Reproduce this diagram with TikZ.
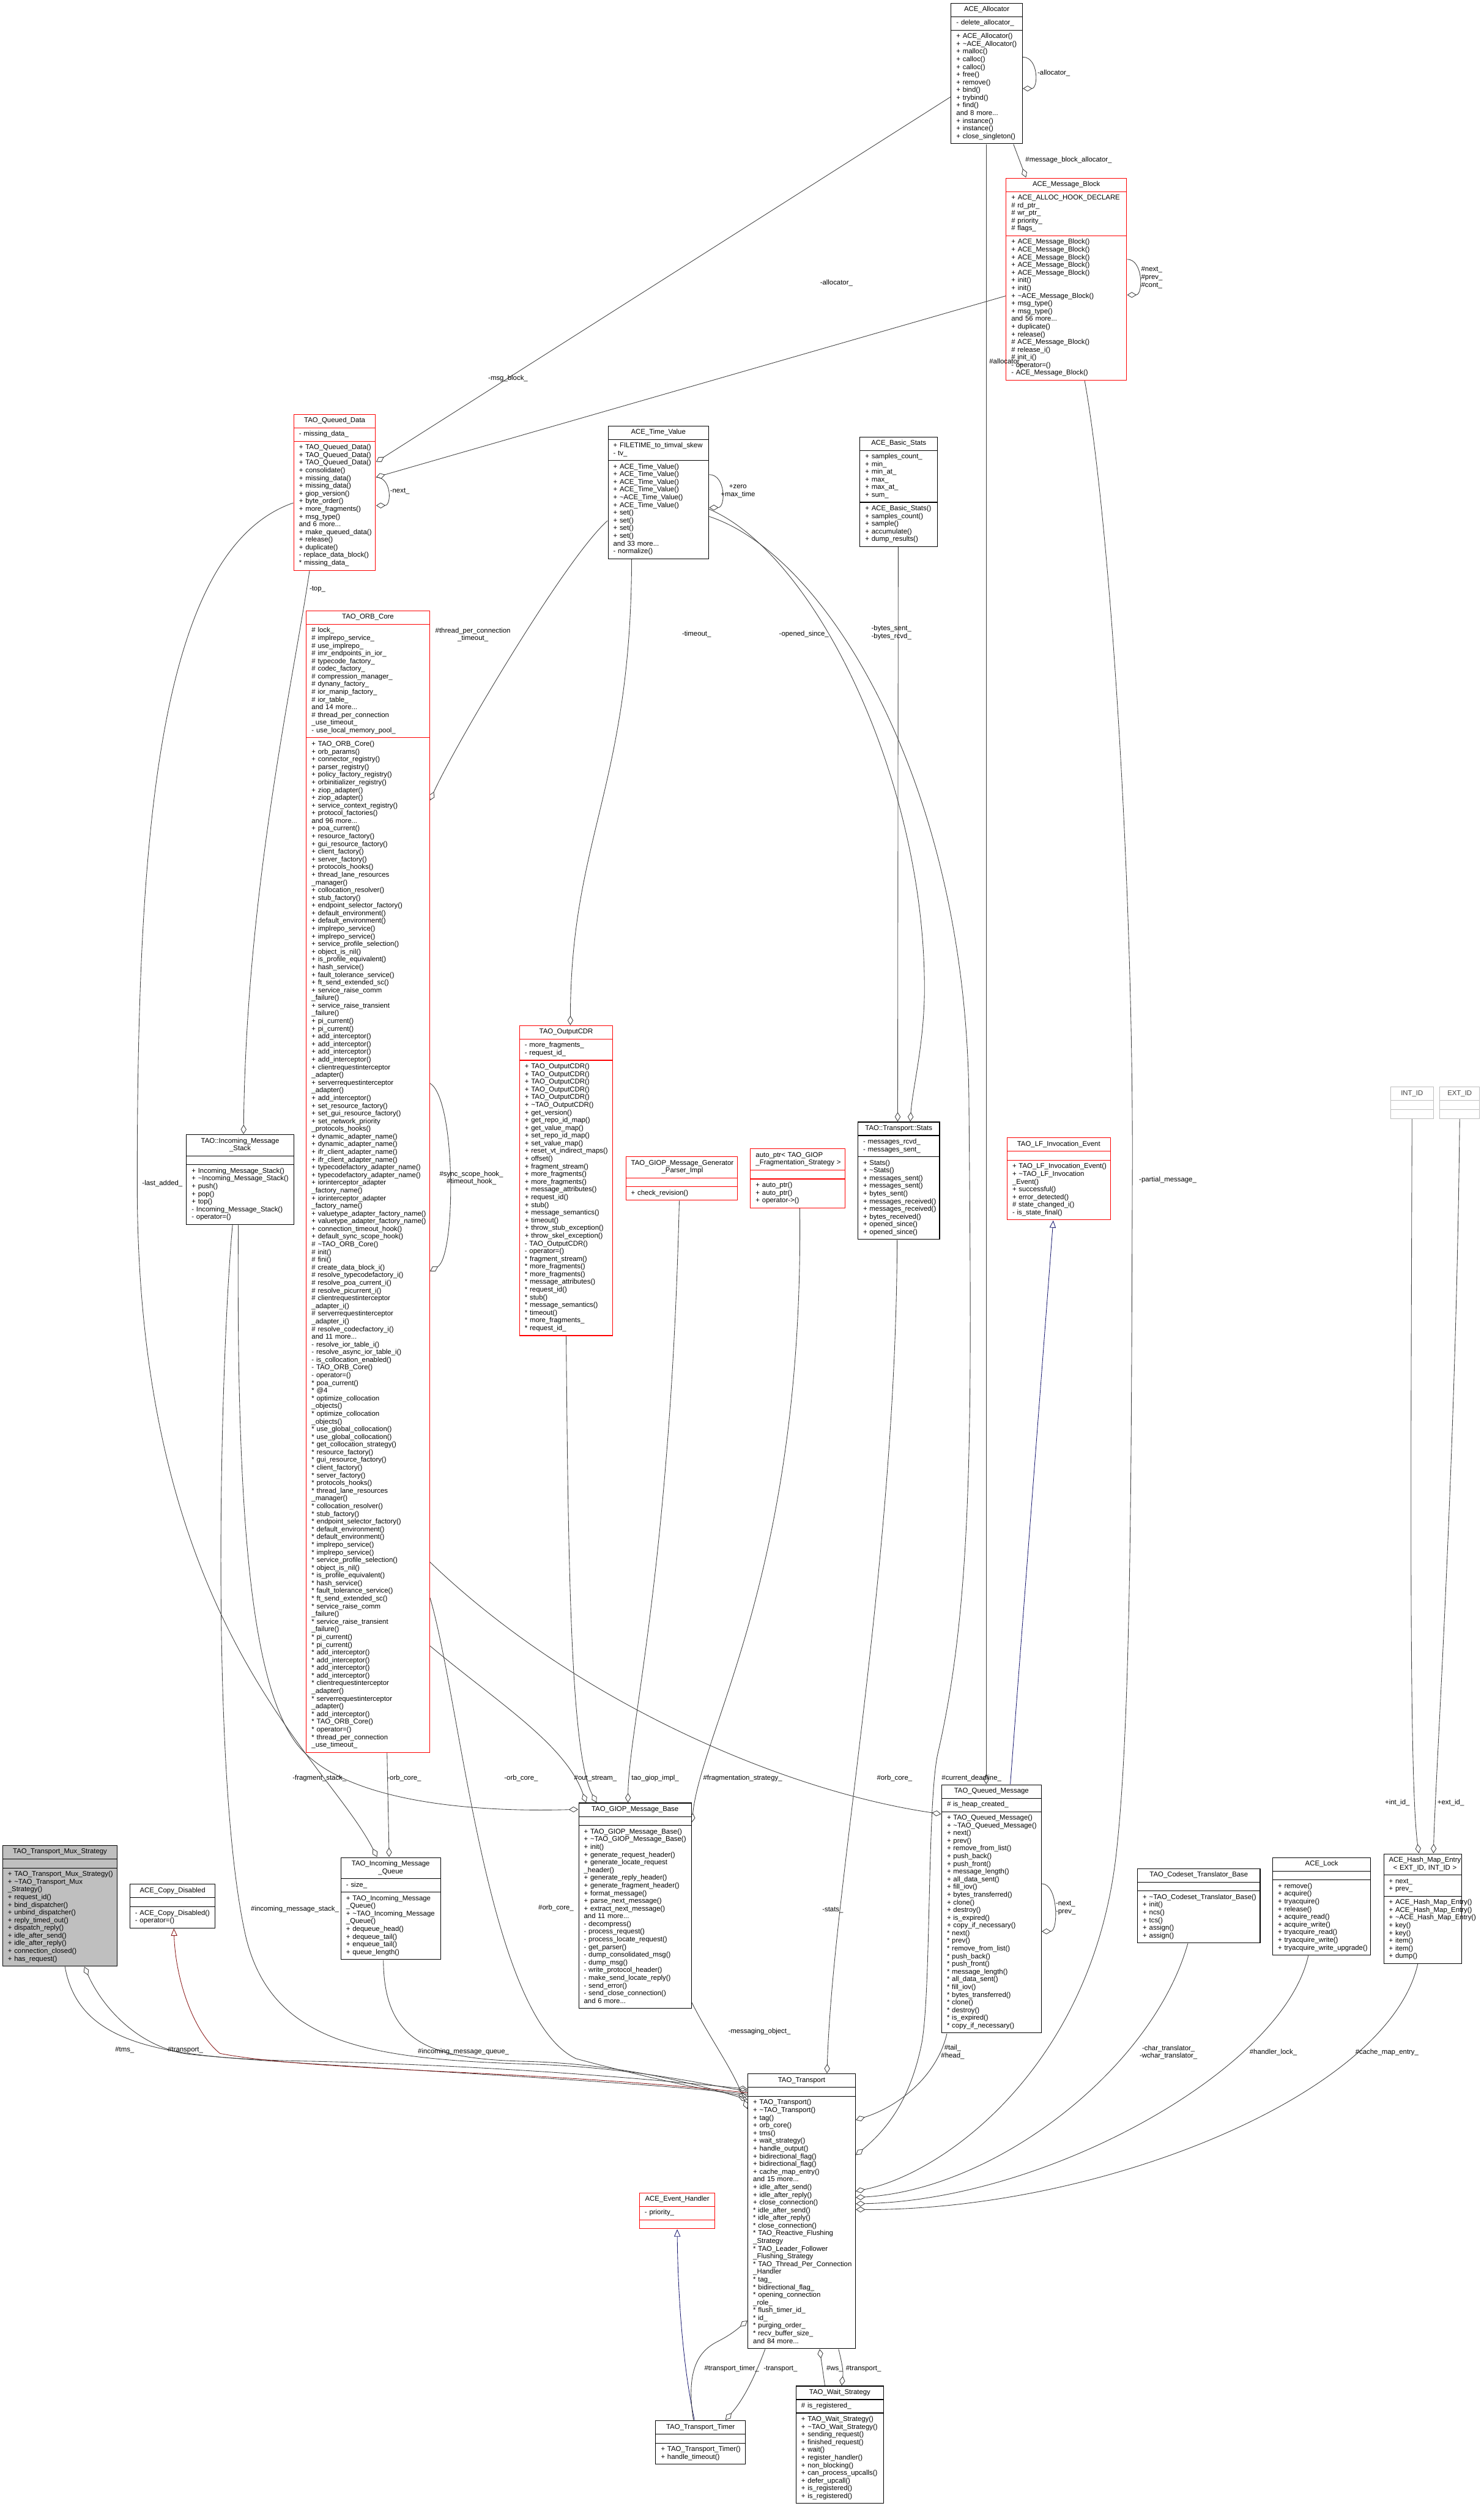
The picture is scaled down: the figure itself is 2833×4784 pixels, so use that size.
\documentclass[tikz,border=0pt]{standalone}
\usepackage{fontspec}
\setmainfont{Liberation Sans}
\usetikzlibrary{calc,fit,arrows.meta}
\pgfdeclarelayer{back}
\pgfdeclarelayer{bg}
\pgfsetlayers{back,bg,main}
\definecolor{boxc}{HTML}{000000}
\definecolor{redc}{HTML}{FF0000}
\definecolor{grayf}{HTML}{BFBFBF}
\definecolor{ghostc}{HTML}{BFBFBF}
\definecolor{edgec}{HTML}{404040}
\definecolor{navyc}{HTML}{191970}
\definecolor{dredc}{HTML}{8B1A1A}
\newcommand\umlf{\fontsize{2.66pt}{2.94pt}\selectfont}
\tikzset{
 part/.style={draw=boxc, line width=0.25pt, fill=white, inner xsep=2pt, inner ysep=1.1pt, outer sep=0pt, anchor=north west, font=\umlf},
 redbox/.style={draw=redc},
 graybox/.style={fill=grayf},
 ghostbox/.style={draw=ghostc, text=black!75},
 plainbox/.style={},
 assoc/.style={draw=edgec, line width=0.2pt, -{Diamond[open, length=3.6pt, width=2.2pt, line width=0.2pt]}},
 inh/.style={draw=navyc, line width=0.2pt, -{Triangle[open, length=2.8pt, width=2.4pt, line width=0.2pt]}},
 pinh/.style={draw=dredc, line width=0.2pt, -{Triangle[open, length=2.8pt, width=2.4pt, line width=0.2pt]}},
 lbl/.style={font=\umlf, inner sep=0pt, align=center, text=black},
}
\newcommand\cls[8]{%
 \node[part,#2,text width={(#5-20)*0.2pt},align=center] (#1-t) at (#3,#4) {\begin{tabular}{@{}c@{}}#6\end{tabular}};
 \node[part,#2,text width={(#5-20)*0.2pt},align=left] (#1-a) at (#1-t.south west) {\begin{tabular}{@{}l@{}}#7\end{tabular}};
 \node[part,#2,text width={(#5-20)*0.2pt},align=left] (#1-m) at (#1-a.south west) {\begin{tabular}{@{}l@{}}#8\end{tabular}};
 \node[fit=(#1-t)(#1-m),inner sep=0pt] (#1) {};
}
\begin{document}
\catcode`\_=12 \catcode`\~=12
\begin{tikzpicture}[x=0.2pt,y=-0.2pt]
\begin{pgfonlayer}{back}
\fill[white] (0,0) rectangle (2833,4784);
\end{pgfonlayer}
\useasboundingbox (0,0) rectangle (2833,4784);

\cls{alloc}{plainbox}{1816}{6}{136}{ACE_Allocator}{- delete_allocator_}{+ ACE_Allocator()\\+ ~ACE_Allocator()\\+ malloc()\\+ calloc()\\+ calloc()\\+ free()\\+ remove()\\+ bind()\\+ trybind()\\+ find()\\and 8 more...\\+ instance()\\+ instance()\\+ close_singleton()}

\cls{mb}{redbox}{1921}{340}{230}{ACE_Message_Block}{+ ACE_ALLOC_HOOK_DECLARE\\\# rd_ptr_\\\# wr_ptr_\\\# priority_\\\# flags_}{+ ACE_Message_Block()\\+ ACE_Message_Block()\\+ ACE_Message_Block()\\+ ACE_Message_Block()\\+ ACE_Message_Block()\\+ init()\\+ init()\\+ ~ACE_Message_Block()\\+ msg_type()\\+ msg_type()\\and 56 more...\\+ duplicate()\\+ release()\\\# ACE_Message_Block()\\\# release_i()\\\# init_i()\\- operator=()\\- ACE_Message_Block()}

\cls{qd}{redbox}{561}{791}{156}{TAO_Queued_Data}{- missing_data_}{+ TAO_Queued_Data()\\+ TAO_Queued_Data()\\+ TAO_Queued_Data()\\+ consolidate()\\+ missing_data()\\+ missing_data()\\+ giop_version()\\+ byte_order()\\+ more_fragments()\\+ msg_type()\\and 6 more...\\+ make_queued_data()\\+ release()\\+ duplicate()\\- replace_data_block()\\{}* missing_data_}

\cls{tv}{plainbox}{1161}{813}{192}{ACE_Time_Value}{+ FILETIME_to_timval_skew\\- tv_}{+ ACE_Time_Value()\\+ ACE_Time_Value()\\+ ACE_Time_Value()\\+ ACE_Time_Value()\\+ ~ACE_Time_Value()\\+ ACE_Time_Value()\\+ set()\\+ set()\\+ set()\\+ set()\\and 33 more...\\- normalize()}

\cls{bs}{plainbox}{1642}{834}{148}{ACE_Basic_Stats}{+ samples_count_\\+ min_\\+ min_at_\\+ max_\\+ max_at_\\+ sum_}{+ ACE_Basic_Stats()\\+ samples_count()\\+ sample()\\+ accumulate()\\+ dump_results()}

\cls{orb}{redbox}{585}{1166}{235}{TAO_ORB_Core}{\# lock_\\\# implrepo_service_\\\# use_implrepo_\\\# imr_endpoints_in_ior_\\\# typecode_factory_\\\# codec_factory_\\\# compression_manager_\\\# dynany_factory_\\\# ior_manip_factory_\\\# ior_table_\\and 14 more...\\\# thread_per_connection\\_use_timeout_\\- use_local_memory_pool_}{+ TAO_ORB_Core()\\+ orb_params()\\+ connector_registry()\\+ parser_registry()\\+ policy_factory_registry()\\+ orbinitializer_registry()\\+ ziop_adapter()\\+ ziop_adapter()\\+ service_context_registry()\\+ protocol_factories()\\and 96 more...\\+ poa_current()\\+ resource_factory()\\+ gui_resource_factory()\\+ client_factory()\\+ server_factory()\\+ protocols_hooks()\\+ thread_lane_resources\\_manager()\\+ collocation_resolver()\\+ stub_factory()\\+ endpoint_selector_factory()\\+ default_environment()\\+ default_environment()\\+ implrepo_service()\\+ implrepo_service()\\+ service_profile_selection()\\+ object_is_nil()\\+ is_profile_equivalent()\\+ hash_service()\\+ fault_tolerance_service()\\+ ft_send_extended_sc()\\+ service_raise_comm\\_failure()\\+ service_raise_transient\\_failure()\\+ pi_current()\\+ pi_current()\\+ add_interceptor()\\+ add_interceptor()\\+ add_interceptor()\\+ add_interceptor()\\+ clientrequestinterceptor\\_adapter()\\+ serverrequestinterceptor\\_adapter()\\+ add_interceptor()\\+ set_resource_factory()\\+ set_gui_resource_factory()\\+ set_network_priority\\_protocols_hooks()\\+ dynamic_adapter_name()\\+ dynamic_adapter_name()\\+ ifr_client_adapter_name()\\+ ifr_client_adapter_name()\\+ typecodefactory_adapter_name()\\+ typecodefactory_adapter_name()\\+ iorinterceptor_adapter\\_factory_name()\\+ iorinterceptor_adapter\\_factory_name()\\+ valuetype_adapter_factory_name()\\+ valuetype_adapter_factory_name()\\+ connection_timeout_hook()\\+ default_sync_scope_hook()\\\# ~TAO_ORB_Core()\\\# init()\\\# fini()\\\# create_data_block_i()\\\# resolve_typecodefactory_i()\\\# resolve_poa_current_i()\\\# resolve_picurrent_i()\\\# clientrequestinterceptor\\_adapter_i()\\\# serverrequestinterceptor\\_adapter_i()\\\# resolve_codecfactory_i()\\and 11 more...\\- resolve_ior_table_i()\\- resolve_async_ior_table_i()\\- is_collocation_enabled()\\- TAO_ORB_Core()\\- operator=()\\{}* poa_current()\\{}* @4\\{}* optimize_collocation\\_objects()\\{}* optimize_collocation\\_objects()\\{}* use_global_collocation()\\{}* use_global_collocation()\\{}* get_collocation_strategy()\\{}* resource_factory()\\{}* gui_resource_factory()\\{}* client_factory()\\{}* server_factory()\\{}* protocols_hooks()\\{}* thread_lane_resources\\_manager()\\{}* collocation_resolver()\\{}* stub_factory()\\{}* endpoint_selector_factory()\\{}* default_environment()\\{}* default_environment()\\{}* implrepo_service()\\{}* implrepo_service()\\{}* service_profile_selection()\\{}* object_is_nil()\\{}* is_profile_equivalent()\\{}* hash_service()\\{}* fault_tolerance_service()\\{}* ft_send_extended_sc()\\{}* service_raise_comm\\_failure()\\{}* service_raise_transient\\_failure()\\{}* pi_current()\\{}* pi_current()\\{}* add_interceptor()\\{}* add_interceptor()\\{}* add_interceptor()\\{}* add_interceptor()\\{}* clientrequestinterceptor\\_adapter()\\{}* serverrequestinterceptor\\_adapter()\\{}* add_interceptor()\\{}* TAO_ORB_Core()\\{}* operator=()\\{}* thread_per_connection\\_use_timeout_}

\cls{cdr}{redbox}{992}{1958}{178}{TAO_OutputCDR}{- more_fragments_\\- request_id_}{+ TAO_OutputCDR()\\+ TAO_OutputCDR()\\+ TAO_OutputCDR()\\+ TAO_OutputCDR()\\+ TAO_OutputCDR()\\+ ~TAO_OutputCDR()\\+ get_version()\\+ get_repo_id_map()\\+ get_value_map()\\+ set_repo_id_map()\\+ set_value_map()\\+ reset_vt_indirect_maps()\\+ offset()\\+ fragment_stream()\\+ more_fragments()\\+ more_fragments()\\+ message_attributes()\\+ request_id()\\+ stub()\\+ message_semantics()\\+ timeout()\\+ throw_stub_exception()\\+ throw_skel_exception()\\- TAO_OutputCDR()\\- operator=()\\{}* fragment_stream()\\{}* more_fragments()\\{}* more_fragments()\\{}* message_attributes()\\{}* request_id()\\{}* stub()\\{}* message_semantics()\\{}* timeout()\\{}* more_fragments_\\{}* request_id_}

\cls{gen}{redbox}{1195}{2208}{213}{TAO_GIOP_Message_Generator\\_Parser_Impl}{}{+ check_revision()}

\cls{ap}{redbox}{1433}{2193}{180}{\rlap{auto_ptr< TAO_GIOP}\phantom{_Fragmentation_Strategy >}\\_Fragmentation_Strategy >}{}{+ auto_ptr()\\+ auto_ptr()\\+ operator->()}

\cls{st}{plainbox}{1638}{2142}{156}{TAO::Transport::Stats}{- messages_rcvd_\\- messages_sent_}{+ Stats()\\+ ~Stats()\\+ messages_sent()\\+ messages_sent()\\+ bytes_sent()\\+ messages_received()\\+ messages_received()\\+ bytes_received()\\+ opened_since()\\+ opened_since()}

\cls{lf}{redbox}{1923}{2172}{197}{TAO_LF_Invocation_Event}{}{+ TAO_LF_Invocation_Event()\\+ ~TAO_LF_Invocation\\_Event()\\+ successful()\\+ error_detected()\\\# state_changed_i()\\- is_state_final()}

\cls{ims}{plainbox}{356}{2166}{205}{TAO::Incoming_Message\\_Stack}{}{+ Incoming_Message_Stack()\\+ ~Incoming_Message_Stack()\\+ push()\\+ pop()\\+ top()\\- Incoming_Message_Stack()\\- operator=()}

\cls{imq}{plainbox}{651}{3546}{190}{TAO_Incoming_Message\\_Queue}{- size_}{+ TAO_Incoming_Message\\_Queue()\\+ ~TAO_Incoming_Message\\_Queue()\\+ dequeue_head()\\+ dequeue_tail()\\+ enqueue_tail()\\+ queue_length()}

\cls{gmb}{plainbox}{1105}{3442}{215}{TAO_GIOP_Message_Base}{}{+ TAO_GIOP_Message_Base()\\+ ~TAO_GIOP_Message_Base()\\+ init()\\+ generate_request_header()\\+ generate_locate_request\\_header()\\+ generate_reply_header()\\+ generate_fragment_header()\\+ format_message()\\+ parse_next_message()\\+ extract_next_message()\\and 11 more...\\- decompress()\\- process_request()\\- process_locate_request()\\- get_parser()\\- dump_consolidated_msg()\\- dump_msg()\\- write_protocol_header()\\- make_send_locate_reply()\\- send_error()\\- send_close_connection()\\and 6 more...}

\cls{qm}{plainbox}{1798}{3407}{190}{TAO_Queued_Message}{\# is_heap_created_}{+ TAO_Queued_Message()\\+ ~TAO_Queued_Message()\\+ next()\\+ prev()\\+ remove_from_list()\\+ push_back()\\+ push_front()\\+ message_length()\\+ all_data_sent()\\+ fill_iov()\\+ bytes_transferred()\\+ clone()\\+ destroy()\\+ is_expired()\\+ copy_if_necessary()\\{}* next()\\{}* prev()\\{}* remove_from_list()\\{}* push_back()\\{}* push_front()\\{}* message_length()\\{}* all_data_sent()\\{}* fill_iov()\\{}* bytes_transferred()\\{}* clone()\\{}* destroy()\\{}* is_expired()\\{}* copy_if_necessary()}

\cls{cs}{plainbox}{2172}{3567}{234}{TAO_Codeset_Translator_Base}{}{+ ~TAO_Codeset_Translator_Base()\\+ init()\\+ ncs()\\+ tcs()\\+ assign()\\+ assign()}

\cls{lock}{plainbox}{2430}{3546}{187}{ACE_Lock}{}{+ remove()\\+ acquire()\\+ tryacquire()\\+ release()\\+ acquire_read()\\+ acquire_write()\\+ tryacquire_read()\\+ tryacquire_write()\\+ tryacquire_write_upgrade()}

\cls{hme}{plainbox}{2642}{3539}{149}{ACE_Hash_Map_Entry\\< EXT_ID, INT_ID >}{+ next_\\+ prev_}{+ ACE_Hash_Map_Entry()\\+ ACE_Hash_Map_Entry()\\+ ~ACE_Hash_Map_Entry()\\+ key()\\+ key()\\+ item()\\+ item()\\+ dump()}

\cls{intid}{ghostbox}{2655}{2075}{82}{INT_ID}{}{}
\cls{extid}{ghostbox}{2749}{2075}{76}{EXT_ID}{}{}

\cls{mux}{graybox}{5}{3523}{219}{TAO_Transport_Mux_Strategy}{}{+ TAO_Transport_Mux_Strategy()\\+ ~TAO_Transport_Mux\\_Strategy()\\+ request_id()\\+ bind_dispatcher()\\+ unbind_dispatcher()\\+ reply_timed_out()\\+ dispatch_reply()\\+ idle_after_send()\\+ idle_after_reply()\\+ connection_closed()\\+ has_request()}

\cls{cd}{plainbox}{248}{3597}{163}{ACE_Copy_Disabled}{}{- ACE_Copy_Disabled()\\- operator=()}

\cls{tr}{plainbox}{1428}{3959}{205}{TAO_Transport}{}{+ TAO_Transport()\\+ ~TAO_Transport()\\+ tag()\\+ orb_core()\\+ tms()\\+ wait_strategy()\\+ handle_output()\\+ bidirectional_flag()\\+ bidirectional_flag()\\+ cache_map_entry()\\and 15 more...\\+ idle_after_send()\\+ idle_after_reply()\\+ close_connection()\\{}* idle_after_send()\\{}* idle_after_reply()\\{}* close_connection()\\{}* TAO_Reactive_Flushing\\_Strategy\\{}* TAO_Leader_Follower\\_Flushing_Strategy\\{}* TAO_Thread_Per_Connection\\_Handler\\{}* tag_\\{}* bidirectional_flag_\\{}* opening_connection\\_role_\\{}* flush_timer_id_\\{}* id_\\{}* purging_order_\\{}* recv_buffer_size_\\and 84 more...}

\cls{eh}{redbox}{1221}{4186}{144}{ACE_Event_Handler}{- priority_}{}

\cls{tt}{plainbox}{1252}{4621}{171}{TAO_Transport_Timer}{}{+ TAO_Transport_Timer()\\+ handle_timeout()}

\cls{ws}{plainbox}{1520}{4555}{167}{TAO_Wait_Strategy}{\# is_registered_}{+ TAO_Wait_Strategy()\\+ ~TAO_Wait_Strategy()\\+ sending_request()\\+ finished_request()\\+ wait()\\+ register_handler()\\+ non_blocking()\\+ can_process_upcalls()\\+ defer_upcall()\\+ is_registered()\\+ is_registered()}

\begin{pgfonlayer}{bg}
% ACE_Allocator
\draw[assoc] ($(alloc.north east)+(0,104)$) .. controls +(30,0) and +(30,0) .. ($(alloc.north east)+(0,164)$);
\draw[assoc] ($(alloc.south west)+(120,0)$) -- ($(mb.north west)+(39,0)$);
\draw[assoc] ($(alloc.south west)+(68,0)$) -- ($(qm.north west)+(86,0)$);
\draw[assoc] ($(alloc.north west)+(0,180)$) -- ($(qd.north east)+(0,92)$);
% ACE_Message_Block
\draw[assoc] ($(mb.north west)+(0,226)$) -- ($(qd.north east)+(0,121)$);
\draw[assoc] ($(mb.north east)+(0,156)$) .. controls +(31,0) and +(31,0) .. ($(mb.north east)+(0,224)$);
\draw[assoc] ($(mb.south west)+(151,0)$) .. controls (2120,1000) and (2165,1700) .. (2162,2253) .. controls (2160,2800) and (2160,3300) .. (2130,3550) .. controls (2080,3950) and (1800,4150) .. ($(tr.north east)+(0,225)$);
% ACE_Time_Value
\draw[assoc] ($(tv.north east)+(0,94)$) .. controls +(32,0) and +(32,0) .. ($(tv.north east)+(0,157)$);
\draw[assoc] ($(tv.north west)+(0,182)$) .. controls (1080,1065) and (870,1420) .. ($(orb.north east)+(0,363)$);
\draw[assoc] ($(tv.south west)+(46,0)$) .. controls (1205,1500) and (1090,1600) .. ($(cdr.north west)+(98,0)$);
\draw[assoc] ($(tv.north east)+(0,160)$) .. controls (1560,1060) and (1770,1500) .. (1765,1900) .. controls (1763,2000) and (1742,2080) .. ($(st.north west)+(101,0)$);
\draw[assoc] ($(tv.north east)+(0,174)$) .. controls (1580,1060) and (1845,1500) .. (1850,2100) .. controls (1855,2700) and (1860,3050) .. (1790,3350) .. controls (1770,3450) and (1778,3800) .. (1760,3900) .. controls (1740,4000) and (1700,4060) .. ($(tr.north east)+(0,156)$);
\draw[assoc] ($(bs.south west)+(74,0)$) -- ($(st.north west)+(77,0)$);
% TAO_Queued_Data
\draw[assoc] ($(qd.north east)+(0,121)$) .. controls +(30,0) and +(30,0) .. ($(qd.north east)+(0,175)$);
\draw[assoc] ($(qd.south west)+(31,0)$) .. controls (560,1300) and (470,1700) .. ($(ims.north west)+(110,0)$);
\draw[assoc] ($(qd.north west)+(0,170)$) .. controls (300,1050) and (262,1600) .. (262,2260) .. controls (262,3100) and (620,3350) .. ($(imq.north west)+(70,0)$);
% Incoming message stack
\draw[assoc] ($(ims.south west)+(100,0)$) .. controls (451,2900) and (480,3200) .. (560,3320) .. controls (640,3440) and (900,3460) .. ($(gmb.north west)+(0,13)$);
\draw[assoc] ($(ims.south west)+(89,0)$) .. controls (420,2600) and (400,3400) .. (470,3700) .. controls (520,3900) and (700,3930) .. (1000,3940) .. controls (1200,3945) and (1350,3980) .. ($(tr.north west)+(0,34)$);
% ORB core
\draw[assoc] ($(orb.north east)+(0,903)$) .. controls +(50,30) and +(50,-30) .. ($(orb.north east)+(0,1262)$);
\draw[assoc] ($(orb.south west)+(155,0)$) -- ($(imq.north west)+(93,0)$);
\draw[assoc] ($(orb.north east)+(0,1977)$) .. controls (950,3250) and (1080,3330) .. ($(gmb.north west)+(15,0)$);
\draw[assoc] ($(orb.north east)+(0,1885)$) .. controls (880,3250) and (930,3850) .. (1100,3930) .. controls (1250,3970) and (1350,3990) .. ($(tr.north west)+(0,44)$);
\draw[assoc] ($(orb.north east)+(0,1817)$) .. controls (1100,3250) and (1500,3420) .. ($(qm.north west)+(0,57)$);
% into GIOP message base
\draw[assoc] ($(cdr.south west)+(90,0)$) .. controls (1085,3000) and (1090,3350) .. ($(gmb.north west)+(35,0)$);
\draw[assoc] ($(gen.south west)+(103,0)$) .. controls (1280,3000) and (1200,3300) .. ($(gmb.north west)+(95,0)$);
\draw[assoc] ($(ap.south west)+(95,0)$) .. controls (1535,3000) and (1340,3300) .. ($(gmb.north east)+(0,38)$);
% into Transport
\draw[assoc] ($(st.south west)+(76,0)$) .. controls (1710,3000) and (1590,3600) .. ($(tr.north west)+(152,0)$);
\draw[assoc] ($(gmb.south east)+(0,-12)$) .. controls (1360,3900) and (1400,3950) .. ($(tr.north west)+(0,68)$);
\draw[assoc] ($(qm.north east)+(0,190)$) .. controls +(32,0) and +(32,0) .. ($(qm.north east)+(0,281)$);
\draw[assoc] ($(qm.south west)+(11,0)$) .. controls (1790,3960) and (1720,4020) .. ($(tr.north east)+(0,89)$);
\draw[inh] ($(qm.north west)+(132,0)$) -- ($(lf.south west)+(89,0)$);
\draw[assoc] ($(cs.south west)+(97,0)$) .. controls (2200,3950) and (1900,4180) .. ($(tr.north east)+(0,237)$);
\draw[assoc] ($(lock.south west)+(69,0)$) .. controls (2450,3950) and (2000,4200) .. ($(tr.north east)+(0,249)$);
\draw[assoc] ($(hme.south west)+(66,0)$) .. controls (2650,4000) and (2100,4220) .. ($(tr.north east)+(0,260)$);
\draw[assoc] (intid.south) .. controls (2694,2800) and (2690,3400) .. ($(hme.north west)+(68,0)$);
\draw[assoc] (extid.south) .. controls (2780,2800) and (2740,3400) .. ($(hme.north west)+(96,0)$);
\draw[assoc] ($(mux.south west)+(120,0)$) .. controls (150,3900) and (300,3930) .. (600,3935) .. controls (1000,3945) and (1300,3975) .. ($(tr.north west)+(0,30)$);
\draw[assoc] ($(tr.north west)+(0,40)$) .. controls (1200,3970) and (500,3940) .. (350,3920) .. controls (250,3900) and (190,3820) .. ($(mux.south west)+(157,0)$);
\draw[pinh] ($(tr.north west)+(0,37)$) .. controls (1000,3950) and (600,3955) .. (420,3920) .. controls (370,3880) and (335,3780) .. ($(cd.south west)+(85,0)$);
\draw[assoc] ($(imq.south west)+(82,0)$) .. controls (733,3900) and (820,3930) .. (1000,3935) .. controls (1200,3940) and (1350,3985) .. ($(tr.north west)+(0,50)$);
% bottom
\draw[inh] ($(tt.north west)+(75,0)$) .. controls (1300,4500) and (1294,4350) .. ($(eh.south west)+(73,0)$);
\draw[assoc] ($(tt.north west)+(73,0)$) .. controls (1310,4530) and (1330,4490) .. (1370,4470) .. controls (1400,4455) and (1415,4440) .. ($(tr.north west)+(0,472)$);
\draw[assoc] ($(tr.south west)+(34,0)$) .. controls (1440,4540) and (1420,4580) .. ($(tt.north east)+(-39,0)$);
\draw[assoc] ($(ws.north west)+(56,0)$) -- ($(tr.south west)+(138,0)$);
\draw[assoc] ($(tr.south west)+(174,0)$) .. controls (1610,4520) and (1610,4530) .. ($(ws.north west)+(88,0)$);
\end{pgfonlayer}

\node[lbl,anchor=west] (l1) at (1980,139) {-allocator_};
\node[lbl,anchor=west] (l2) at (1957,305) {\#message_block_allocator_};
\node[lbl,anchor=west] (l3) at (1888,691) {\#allocator_};
\node[lbl] (l4) at (1597,540) {-allocator_};
\node[lbl] (l5) at (970,723) {-msg_block_};
\node[lbl,anchor=west,align=left] (l6) at (2178,530) {\#next_\\\#prev_\\\#cont_};
\node[lbl,anchor=west] (l7) at (2174,2253) {-partial_message_};
\node[lbl] (l8) at (1409,938) {+zero\\+max_time};
\node[lbl] (l9) at (903,1212) {\#thread_per_connection\\_timeout_};
\node[lbl] (l10) at (1330,1211) {-timeout_};
\node[lbl] (l11) at (1535,1211) {-opened_since_};
\node[lbl] (l12) at (1702,1208) {-bytes_sent_\\-bytes_rcvd_};
\node[lbl,anchor=west] (l13) at (744,938) {-next_};
\node[lbl,anchor=west] (l14) at (590,1125) {-top_};
\node[lbl] (l15) at (900,2249) {\#sync_scope_hook_\\\#timeout_hook_};
\node[lbl] (l16) at (310,2260) {-last_added_};
\node[lbl] (l17) at (610,3395) {-fragment_stack_};
\node[lbl] (l18) at (772,3395) {-orb_core_};
\node[lbl] (l19) at (995,3395) {-orb_core_};
\node[lbl] (l20) at (1137,3395) {\#out_stream_};
\node[lbl] (l21) at (1251,3395) {tao_giop_impl_};
\node[lbl] (l22) at (1418,3395) {\#fragmentation_strategy_};
\node[lbl] (l23) at (1708,3395) {\#orb_core_};
\node[lbl] (l24) at (1855,3395) {\#current_deadline_};
\node[lbl] (l25) at (563,3645) {\#incoming_message_stack_};
\node[lbl,anchor=west] (l26) at (1027,3642) {\#orb_core_};
\node[lbl] (l27) at (1590,3646) {-stats_};
\node[lbl,anchor=west,align=left] (l28) at (2015,3642) {-next_\\-prev_};
\node[lbl] (l29) at (2668,3441) {+int_id_};
\node[lbl] (l30) at (2770,3441) {+ext_id_};
\node[lbl] (l31) at (238,3914) {\#tms_};
\node[lbl] (l32) at (354,3914) {\#transport_};
\node[lbl,anchor=west] (l33) at (797,3917) {\#incoming_message_queue_};
\node[lbl] (l34) at (1450,3878) {-messaging_object_};
\node[lbl] (l35) at (1819,3917) {\#tail_\\\#head_};
\node[lbl] (l36) at (2231,3918) {-char_translator_\\-wchar_translator_};
\node[lbl,anchor=west] (l37) at (2385,3918) {\#handler_lock_};
\node[lbl,anchor=west] (l38) at (2587,3918) {\#cache_map_entry_};
\node[lbl,anchor=west] (l39) at (1344,4522) {\#transport_timer_};
\node[lbl,anchor=west] (l40) at (1457,4522) {-transport_};
\node[lbl,anchor=west] (l41) at (1577,4522) {\#ws_};
\node[lbl,anchor=west] (l42) at (1614,4522) {\#transport_};
\end{tikzpicture}
\end{document}
